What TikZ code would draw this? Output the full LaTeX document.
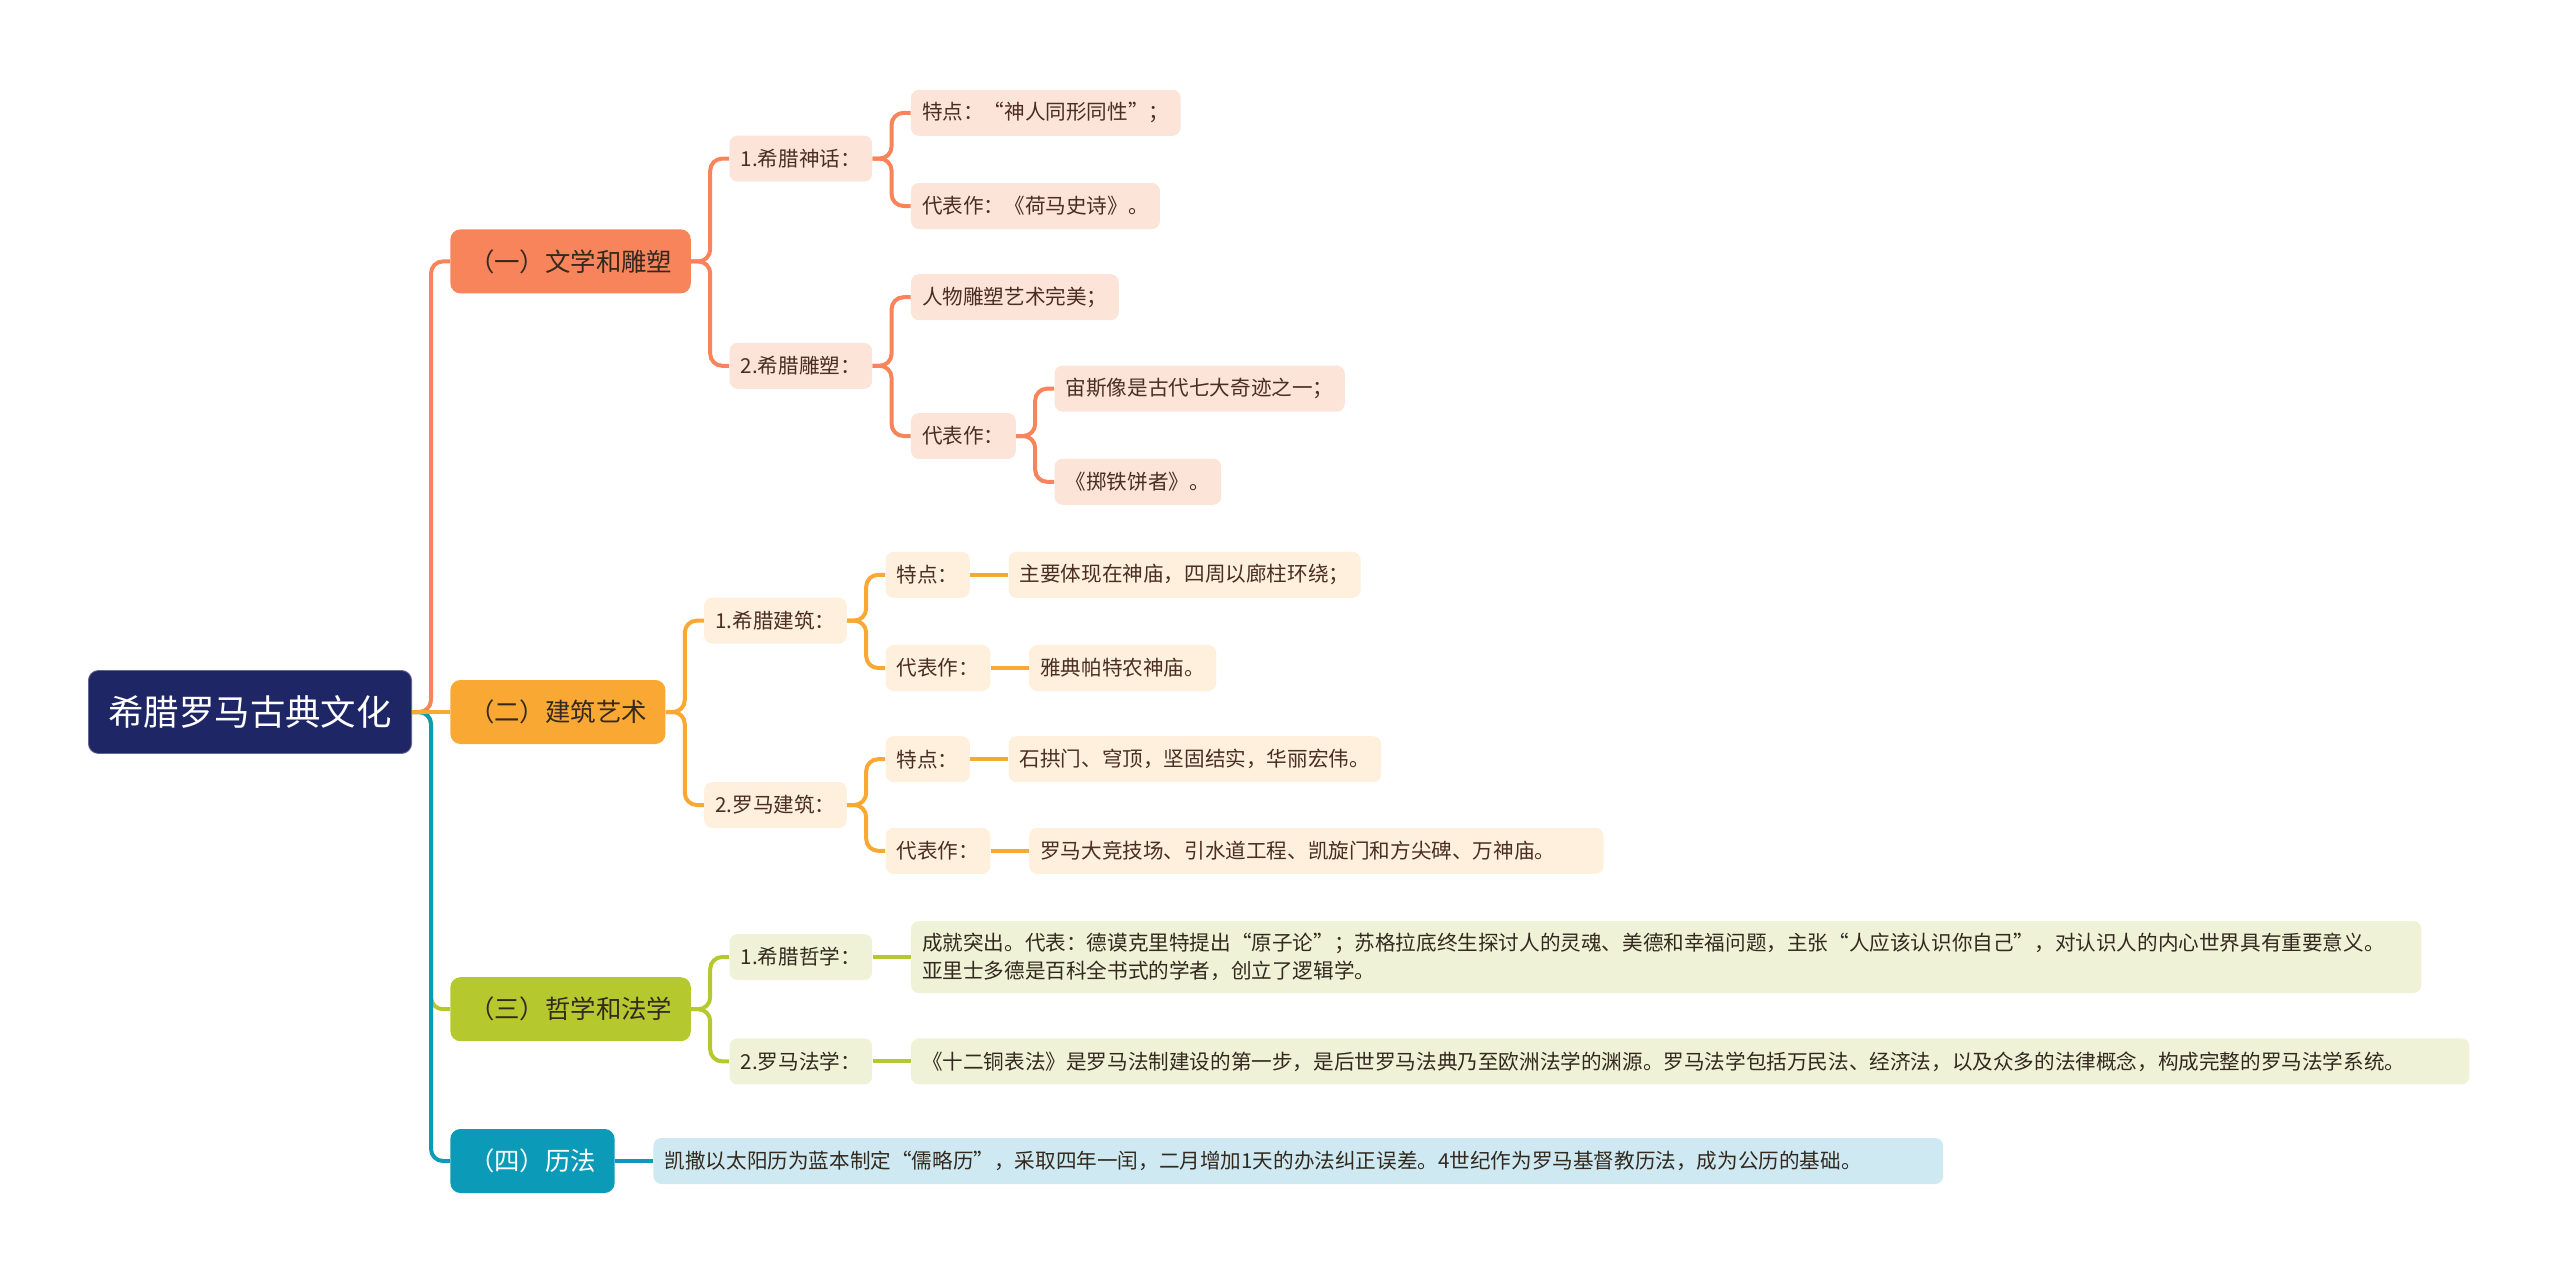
\documentclass[tikz,border=0pt]{standalone}
\usepackage{fontspec}
\setmainfont{Noto Sans CJK SC}
\usepackage{tikz}
\usetikzlibrary{positioning}

\definecolor{rootnavy}{HTML}{1F2666}
\definecolor{coralhue}{HTML}{F8845C}
\definecolor{coralpale}{HTML}{FDE4D9}
\definecolor{amberhue}{HTML}{FAA834}
\definecolor{amberpale}{HTML}{FEF0DD}
\definecolor{limehue}{HTML}{B5C92E}
\definecolor{limepale}{HTML}{EFF2D6}
\definecolor{bluehue}{HTML}{0B9AB8}
\definecolor{bluepale}{HTML}{CEE9F2}
\definecolor{inkbrown}{HTML}{4A2E22}
\definecolor{inkdark}{HTML}{33291F}

\begin{document}
\begin{tikzpicture}[
  root/.style={rectangle, rounded corners=5pt, fill=rootnavy, draw=rootnavy!70!white, text=white, minimum height=41.5pt, inner xsep=10pt, font=\fontsize{17.7}{20}\selectfont},
  topic/.style={rectangle, rounded corners=5pt, minimum height=32pt, inner xsep=9.3pt, text=inkdark, font=\fontsize{12.7}{15}\selectfont},
  item/.style={rectangle, rounded corners=4pt, minimum height=23pt, inner xsep=5.6pt, font=\fontsize{10.3}{13.9}\selectfont},
  litem/.style={item, fill=coralpale, text=inkbrown},
  aitem/.style={item, fill=amberpale, text=inkbrown},
  gitem/.style={item, fill=limepale, text=inkdark},
  bitem/.style={item, fill=bluepale, text=inkdark},
  link/.style={line width=2pt, rounded corners=6pt}
]
\useasboundingbox (-44pt,-285pt) rectangle (1236pt,356pt);

\node[root, anchor=west] (root) at (0,0) {希腊罗马古典文化};
\node[topic, fill=coralhue, right=19pt of root, yshift=225.3pt] (lit) {（一）文学和雕塑};
\node[topic, fill=amberhue, right=19pt of root] (arch) {（二）建筑艺术};
\node[topic, fill=limehue, right=19pt of root, yshift=-148.6pt] (phil) {（三）哲学和法学};
\node[topic, fill=bluehue, text=white, right=19pt of root, yshift=-224.5pt] (cal) {（四）历法};

\node[litem, right=19pt of lit, yshift=51.4pt] (myth) {1.希腊神话：};
\node[litem, right=19pt of lit, yshift=-52.2pt] (sculp) {2.希腊雕塑：};
\node[litem, right=19pt of myth, yshift=22.9pt] (mythfeat) {特点：“神人同形同性”；};
\node[litem, right=19pt of myth, yshift=-23.7pt] (mythwork) {代表作：《荷马史诗》。};
\node[litem, right=19pt of sculp, yshift=34.3pt] (sculpfeat) {人物雕塑艺术完美；};
\node[litem, right=19pt of sculp, yshift=-35.1pt] (sculpwork) {代表作：};
\node[litem, right=19pt of sculpwork, yshift=23.7pt] (zeus) {宙斯像是古代七大奇迹之一；};
\node[litem, right=19pt of sculpwork, yshift=-22.9pt] (discus) {《掷铁饼者》。};

\node[aitem, right=19pt of arch, yshift=45.7pt] (grarch) {1.希腊建筑：};
\node[aitem, right=19pt of arch, yshift=-46.5pt] (roarch) {2.罗马建筑：};
\node[aitem, right=19pt of grarch, yshift=22.9pt] (grfeat) {特点：};
\node[aitem, right=19pt of grarch, yshift=-23.7pt] (grwork) {代表作：};
\node[aitem, right=19pt of grfeat] (grfeattxt) {主要体现在神庙，四周以廊柱环绕；};
\node[aitem, right=19pt of grwork] (grworktxt) {雅典帕特农神庙。};
\node[aitem, right=19pt of roarch, yshift=22.9pt] (rofeat) {特点：};
\node[aitem, right=19pt of roarch, yshift=-22.9pt] (rowork) {代表作：};
\node[aitem, right=19pt of rofeat] (rofeattxt) {石拱门、穹顶，坚固结实，华丽宏伟。};
\node[aitem, text width=276pt, align=left, right=19pt of rowork] (roworktxt) {罗马大竞技场、引水道工程、凯旋门和方尖碑、万神庙。};

\node[gitem, right=19pt of phil, yshift=26.1pt] (grphil) {1.希腊哲学：};
\node[gitem, right=19pt of phil, yshift=-26.1pt] (rolaw) {2.罗马法学：};
\node[gitem, minimum height=36pt, text width=744pt, align=left, right=19pt of grphil] (grphiltxt) {成就突出。代表：德谟克里特提出“原子论”；苏格拉底终生探讨人的灵魂、美德和幸福问题，主张“人应该认识你自己”，对认识人的内心世界具有重要意义。\\亚里士多德是百科全书式的学者，创立了逻辑学。};
\node[gitem, text width=768pt, align=left, right=19pt of rolaw] (rolawtxt) {《十二铜表法》是罗马法制建设的第一步，是后世罗马法典乃至欧洲法学的渊源。罗马法学包括万民法、经济法，以及众多的法律概念，构成完整的罗马法学系统。};

\node[bitem, text width=633.7pt, align=left, right=19pt of cal] (caltxt) {凯撒以太阳历为蓝本制定“儒略历”，采取四年一闰，二月增加1天的办法纠正误差。4世纪作为罗马基督教历法，成为公历的基础。};

\draw[link, limehue] (root.east) -- ++(9.5pt,0) |- (phil.west);
\draw[link, bluehue] (root.east) -- ++(9.5pt,0) |- (cal.west);
\draw[link, coralhue] (root.east) -- ++(9.5pt,0) |- (lit.west);
\draw[link, amberhue] (root) -- (arch);

\draw[link, coralhue] (lit.east) -- ++(9.5pt,0) |- (myth.west);
\draw[link, coralhue] (lit.east) -- ++(9.5pt,0) |- (sculp.west);
\draw[link, coralhue] (myth.east) -- ++(9.5pt,0) |- (mythfeat.west);
\draw[link, coralhue] (myth.east) -- ++(9.5pt,0) |- (mythwork.west);
\draw[link, coralhue] (sculp.east) -- ++(9.5pt,0) |- (sculpfeat.west);
\draw[link, coralhue] (sculp.east) -- ++(9.5pt,0) |- (sculpwork.west);
\draw[link, coralhue] (sculpwork.east) -- ++(9.5pt,0) |- (zeus.west);
\draw[link, coralhue] (sculpwork.east) -- ++(9.5pt,0) |- (discus.west);

\draw[link, amberhue] (arch.east) -- ++(9.5pt,0) |- (grarch.west);
\draw[link, amberhue] (arch.east) -- ++(9.5pt,0) |- (roarch.west);
\draw[link, amberhue] (grarch.east) -- ++(9.5pt,0) |- (grfeat.west);
\draw[link, amberhue] (grarch.east) -- ++(9.5pt,0) |- (grwork.west);
\draw[link, amberhue] (roarch.east) -- ++(9.5pt,0) |- (rofeat.west);
\draw[link, amberhue] (roarch.east) -- ++(9.5pt,0) |- (rowork.west);
\draw[link, amberhue] (grfeat) -- (grfeattxt);
\draw[link, amberhue] (grwork) -- (grworktxt);
\draw[link, amberhue] (rofeat) -- (rofeattxt);
\draw[link, amberhue] (rowork) -- (roworktxt);

\draw[link, limehue] (phil.east) -- ++(9.5pt,0) |- (grphil.west);
\draw[link, limehue] (phil.east) -- ++(9.5pt,0) |- (rolaw.west);
\draw[link, limehue] (grphil) -- (grphiltxt);
\draw[link, limehue] (rolaw) -- (rolawtxt);

\draw[link, bluehue] (cal) -- (caltxt);
\end{tikzpicture}
\end{document}
